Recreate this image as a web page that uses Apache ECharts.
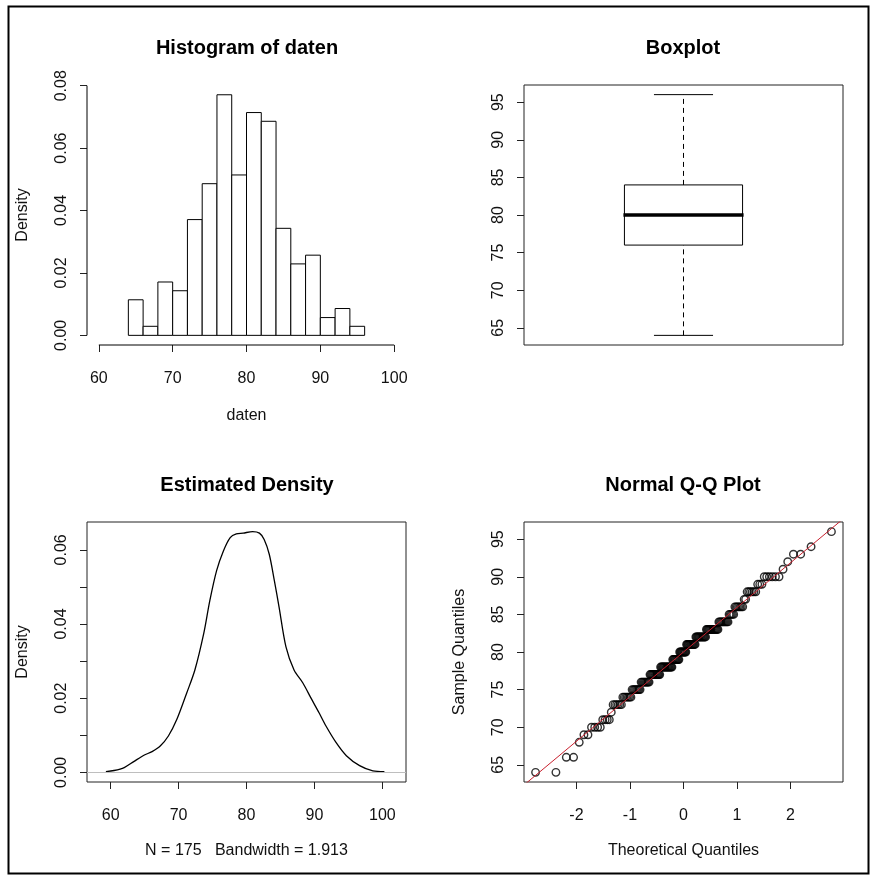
<!DOCTYPE html>
<html>
<head>
<meta charset="utf-8">
<title>daten</title>
<script src="https://cdn.jsdelivr.net/npm/echarts@6/dist/echarts.min.js"></script>
<style>
  html, body { margin: 0; padding: 0; background: #fff; }
  #main { width: 872px; height: 877px; }
</style>
</head>
<body>
<div id="main"></div>
<script>
// histogram (breaks + density)
const histBreaks = [64, 66, 68, 70, 72, 74, 76, 78, 80, 82, 84, 86, 88, 90, 92, 94, 96];
const histDensity = [0.0114, 0.0029, 0.0171, 0.0143, 0.0371, 0.0486, 0.0771, 0.0514,
                     0.0714, 0.0686, 0.0343, 0.0229, 0.0257, 0.0057, 0.0086, 0.0029];

// boxplot: min, q1, median, q3, max
const boxStats = [64, 76, 80, 84, 96];

// estimated density curve
const densX = [59.3, 60.5, 62.0, 63.4, 64.9, 66.1, 67.3, 68.5, 69.75, 71.2, 72.4, 73.7, 74.6,
               75.6, 76.6, 77.6, 78.5, 79.5, 80.9, 81.9, 82.6, 83.35, 84.1, 84.8, 85.8, 87.0,
               88.3, 89.5, 90.7, 91.7, 93.2, 94.7, 96.65, 98.6, 100.3];
const densY = [0.0002, 0.0005, 0.0013, 0.0029, 0.0046, 0.0056, 0.0071, 0.0098, 0.0143, 0.0214,
               0.0276, 0.0374, 0.0463, 0.0544, 0.0597, 0.0633, 0.0643, 0.0645, 0.0649, 0.0645,
               0.0628, 0.0588, 0.0517, 0.0445, 0.0339, 0.0276, 0.0241, 0.0200, 0.0160, 0.0125,
               0.0080, 0.0045, 0.0018, 0.0004, 0.0002];

// sample values and how often each occurs (from the Q-Q plot runs)
const sampleValues = [64, 66, 68, 69, 70, 71, 72, 73, 74, 75, 76, 77, 78, 79, 80, 81, 82, 83,
                      84, 85, 86, 87, 88, 89, 90, 91, 92, 93, 94, 96];
const sampleCounts = [2, 2, 1, 2, 4, 4, 1, 6, 7, 8, 9, 12, 15, 9, 9, 12, 13, 14,
                      10, 5, 7, 2, 6, 3, 6, 1, 1, 2, 1, 1];
// qqline end points
const qqLineEnds = [[-3, 62.2], [3, 97.8]];

const FONT = 'Liberation Sans, Arial, sans-serif';

// normal quantile (Acklam)
function qnorm(p) {
  const a = [-3.969683028665376e+01, 2.209460984245205e+02, -2.759285104469687e+02, 1.383577518672690e+02, -3.066479806614716e+01, 2.506628277459239e+00];
  const b = [-5.447609879822406e+01, 1.615858368580409e+02, -1.556989798598866e+02, 6.680131188771972e+01, -1.328068155288572e+01];
  const c = [-7.784894002430293e-03, -3.223964580411365e-01, -2.400758277161838e+00, -2.549732539343734e+00, 4.374664141464968e+00, 2.938163982698783e+00];
  const d = [7.784695709041462e-03, 3.224671290700398e-01, 2.445134137142996e+00, 3.754408661907416e+00];
  const pl = 0.02425;
  let q, r;
  if (p < pl) {
    q = Math.sqrt(-2 * Math.log(p));
    return (((((c[0]*q+c[1])*q+c[2])*q+c[3])*q+c[4])*q+c[5]) / ((((d[0]*q+d[1])*q+d[2])*q+d[3])*q+1);
  }
  if (p <= 1 - pl) {
    q = p - 0.5; r = q * q;
    return (((((a[0]*r+a[1])*r+a[2])*r+a[3])*r+a[4])*r+a[5])*q / (((((b[0]*r+b[1])*r+b[2])*r+b[3])*r+b[4])*r+1);
  }
  q = Math.sqrt(-2 * Math.log(1 - p));
  return -(((((c[0]*q+c[1])*q+c[2])*q+c[3])*q+c[4])*q+c[5]) / ((((d[0]*q+d[1])*q+d[2])*q+d[3])*q+1);
}

// sorted sample -> theoretical quantiles
const sample = [];
sampleValues.forEach((v, i) => { for (let k = 0; k < sampleCounts[i]; k++) sample.push(v); });
const n = sample.length;
const qqPoints = sample.map((v, i) => [qnorm((i + 1 - 0.5) / n), v]);

const chart = echarts.init(document.getElementById('main'));

const labelStyle = { fontFamily: FONT, fontSize: 16, color: '#111' };

// value axis with R-like ticks (ticks outside, on the plot edge)
function axis(gridIndex, min, max, ticks, labels, fmt, isY, name, nameGap) {
  return {
    type: 'value', gridIndex: gridIndex, min: min, max: max,
    splitLine: { show: false },
    axisLine: { show: false, onZero: false },
    axisTick: { show: true, length: 7, customValues: ticks, lineStyle: { color: '#222', width: 1 } },
    axisLabel: Object.assign({
      show: true, customValues: labels, margin: isY ? 17 : 26, rotate: isY ? 90 : 0,
      formatter: fmt
    }, labelStyle),
    name: name || '', nameLocation: 'middle', nameGap: nameGap || 0,
    nameTextStyle: { fontFamily: FONT, fontSize: 16, color: '#111' }
  };
}
const f2 = v => v.toFixed(2);
const f0 = v => String(Math.round(v));

const gridBase = { containLabel: false, width: 319, height: 260 };
const boxed = { show: true, borderColor: '#222', borderWidth: 1, backgroundColor: 'transparent' };

const option = {
  animation: false,
  backgroundColor: '#fff',
  title: [
    { text: 'Histogram of daten', left: 247, top: 38 },
    { text: 'Boxplot', left: 683, top: 38 },
    { text: 'Estimated Density', left: 247, top: 475 },
    { text: 'Normal Q-Q Plot', left: 683, top: 475 }
  ].map(t => Object.assign(t, {
    textAlign: 'center', padding: 0,
    textStyle: { fontFamily: FONT, fontSize: 20, fontWeight: 'bold', color: '#000' }
  })),
  grid: [
    Object.assign({ left: 87, top: 85, show: false }, gridBase),
    Object.assign({ left: 524, top: 85 }, boxed, gridBase),
    Object.assign({ left: 87, top: 522 }, boxed, gridBase),
    Object.assign({ left: 524, top: 522 }, boxed, gridBase)
  ],
  xAxis: [
    axis(0, 58.4, 101.6, [60, 70, 80, 90, 100], [60, 70, 80, 90, 100], f0, false, 'daten', 63),
    { type: 'value', gridIndex: 1, min: 0.46, max: 1.54, show: false },
    axis(2, 56.52, 103.48, [60, 70, 80, 90, 100], [60, 70, 80, 90, 100], f0, false, 'N = 175   Bandwidth = 1.913', 61),
    axis(3, -2.98, 2.98, [-2, -1, 0, 1, 2], [-2, -1, 0, 1, 2], f0, false, 'Theoretical Quantiles', 61)
  ],
  yAxis: [
    axis(0, -0.00309, 0.08023, [0, 0.02, 0.04, 0.06, 0.08], [0, 0.02, 0.04, 0.06, 0.08], f2, true, 'Density', 56),
    axis(1, 62.72, 97.28, [65, 70, 75, 80, 85, 90, 95], [65, 70, 75, 80, 85, 90, 95], f0, true),
    axis(2, -0.0026, 0.0675, [0, 0.01, 0.02, 0.03, 0.04, 0.05, 0.06], [0, 0.02, 0.04, 0.06], f2, true, 'Density', 56),
    axis(3, 62.72, 97.28, [65, 70, 75, 80, 85, 90, 95], [65, 70, 75, 80, 85, 90, 95], f0, true, 'Sample Quantiles', 56)
  ],
  series: [
    // histogram bars
    {
      type: 'custom', xAxisIndex: 0, yAxisIndex: 0, silent: true,
      data: histDensity.map((d, i) => [histBreaks[i], histBreaks[i + 1], d]),
      encode: { x: [0, 1], y: 2 },
      renderItem: function (params, api) {
        const p0 = api.coord([api.value(0), 0]);
        const p1 = api.coord([api.value(1), api.value(2)]);
        return {
          type: 'rect',
          shape: { x: p0[0], y: p1[1], width: p1[0] - p0[0], height: p0[1] - p1[1] },
          style: { fill: '#fff', stroke: '#000', lineWidth: 1 }
        };
      }
    },
    // histogram axis spines (R draws them tick-to-tick only)
    {
      type: 'line', xAxisIndex: 0, yAxisIndex: 0, silent: true, clip: false, symbol: 'none',
      data: [[60, -0.00309], [100, -0.00309]],
      lineStyle: { color: '#000', width: 1 }
    },
    {
      type: 'line', xAxisIndex: 0, yAxisIndex: 0, silent: true, clip: false, symbol: 'none',
      data: [[58.4, 0], [58.4, 0.08]],
      lineStyle: { color: '#000', width: 1 }
    },
    // boxplot
    {
      type: 'custom', xAxisIndex: 1, yAxisIndex: 1, silent: true,
      data: [[1].concat(boxStats)],
      encode: { x: 0, y: [1, 2, 3, 4, 5] },
      renderItem: function (params, api) {
        const xc = api.value(0);
        const lo = api.coord([xc, api.value(1)]);
        const q1 = api.coord([xc, api.value(2)]);
        const md = api.coord([xc, api.value(3)]);
        const q3 = api.coord([xc, api.value(4)]);
        const hi = api.coord([xc, api.value(5)]);
        const hw = api.size([0.2, 0])[0];
        const cw = hw / 2;
        const cx = lo[0];
        const solid = { stroke: '#000', lineWidth: 1 };
        const dashed = { stroke: '#000', lineWidth: 1, lineDash: [5, 4] };
        return {
          type: 'group',
          children: [
            { type: 'line', shape: { x1: cx, y1: q3[1], x2: cx, y2: hi[1] }, style: dashed },
            { type: 'line', shape: { x1: cx, y1: lo[1], x2: cx, y2: q1[1] }, style: dashed },
            { type: 'line', shape: { x1: cx - cw, y1: hi[1], x2: cx + cw, y2: hi[1] }, style: solid },
            { type: 'line', shape: { x1: cx - cw, y1: lo[1], x2: cx + cw, y2: lo[1] }, style: solid },
            { type: 'rect', shape: { x: cx - hw, y: q3[1], width: 2 * hw, height: q1[1] - q3[1] },
              style: { fill: '#fff', stroke: '#000', lineWidth: 1 } },
            { type: 'line', shape: { x1: cx - hw - 1, y1: md[1], x2: cx + hw + 1, y2: md[1] },
              style: { stroke: '#000', lineWidth: 3.5 } }
          ]
        };
      }
    },
    // density curve
    {
      type: 'line', xAxisIndex: 2, yAxisIndex: 2, silent: true, symbol: 'none', smooth: 0.3,
      data: densX.map((x, i) => [x, densY[i]]),
      lineStyle: { color: '#000', width: 1.3 },
      markLine: {
        silent: true, symbol: 'none', label: { show: false },
        lineStyle: { color: '#bebebe', width: 1, type: 'solid' },
        data: [{ yAxis: 0 }]
      },
      z: 3
    },
    // Q-Q line
    {
      type: 'line', xAxisIndex: 3, yAxisIndex: 3, silent: true, symbol: 'none',
      data: qqLineEnds,
      lineStyle: { color: '#c8202e', width: 1 }, z: 3
    },
    // Q-Q points
    {
      type: 'scatter', xAxisIndex: 3, yAxisIndex: 3, silent: true,
      symbol: 'circle', symbolSize: 7.5,
      data: qqPoints,
      itemStyle: { color: 'rgba(0,0,0,0)', borderColor: '#000', borderWidth: 1.4 }, z: 2
    }
  ],
  graphic: [
    {
      type: 'rect', silent: true, z: 100,
      shape: { x: 8.5, y: 6.5, width: 860, height: 867 },
      style: { fill: 'none', stroke: '#000', lineWidth: 2 }
    }
  ]
};

chart.setOption(option);
</script>
</body>
</html>
